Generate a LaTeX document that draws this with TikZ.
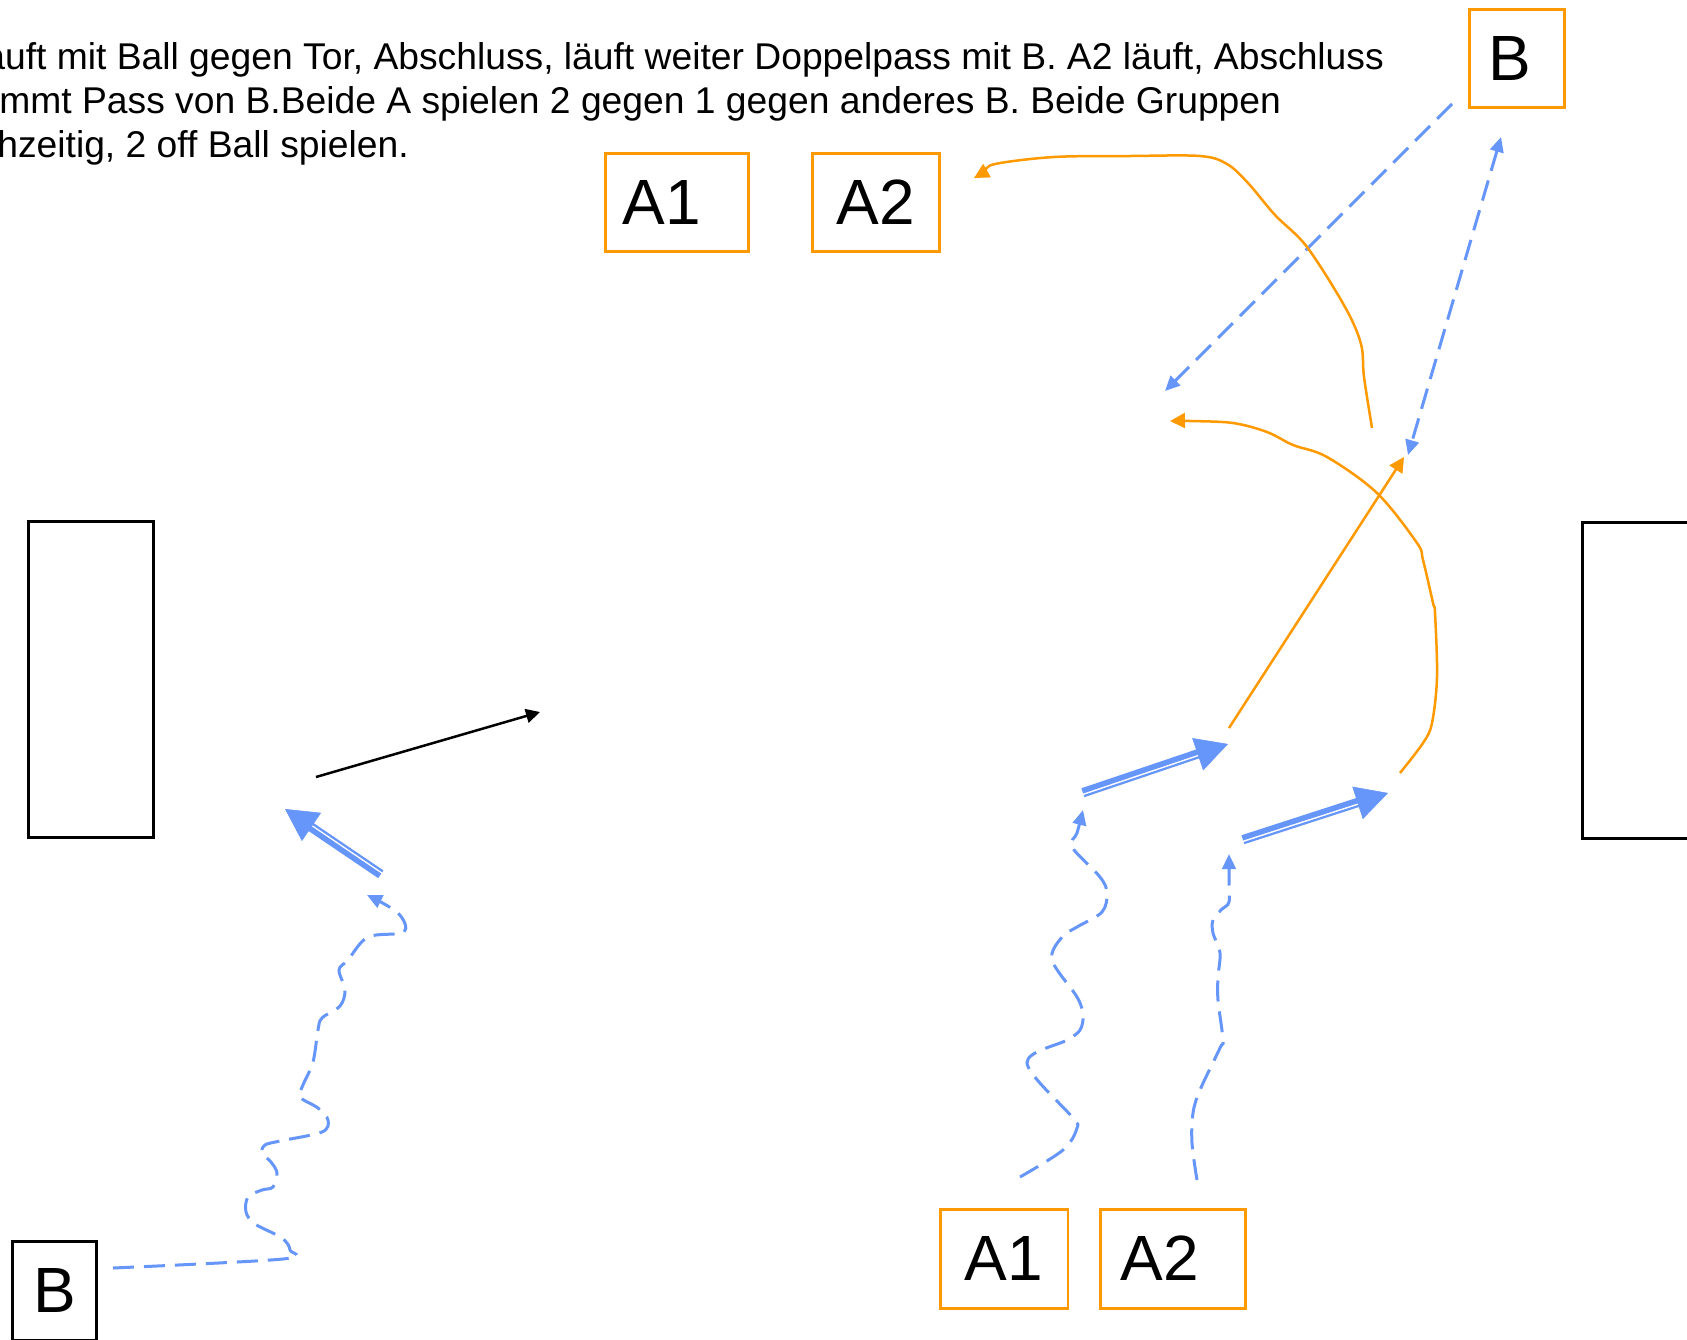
\documentclass[tikz,border=0pt]{standalone}
\usepackage{fontspec}
\setmainfont{Liberation Sans}
\usetikzlibrary{arrows.meta,calc}
\definecolor{pblue}{RGB}{102,150,250}
\definecolor{porange}{RGB}{255,153,0}
\tikzset{
  txt/.style={anchor=base west, inner sep=0pt, font=\fontsize{21.2pt}{25pt}\selectfont},
  obox/.style={draw=porange, line width=0.06cm, inner sep=0pt, minimum height=1.98cm, font=\fontsize{36.4pt}{40pt}\selectfont},
  kbox/.style={draw=black, line width=0.06cm, inner sep=0pt, minimum height=1.98cm, font=\fontsize{36.4pt}{40pt}\selectfont},
  goalbox/.style={draw=black, line width=0.06cm, inner sep=0pt},
  runpath/.style={draw=pblue, line width=0.06cm, dash pattern=on 0.42cm off 0.2cm, -{Triangle[length=0.3cm,width=0.27cm]}},
  bluepass/.style={draw=pblue, line width=0.06cm, dash pattern=on 0.42cm off 0.2cm, -{Triangle[length=0.3cm,width=0.27cm]}},
  bluepasstwo/.style={draw=pblue, line width=0.06cm, dash pattern=on 0.42cm off 0.2cm, {Triangle[length=0.3cm,width=0.27cm]}-{Triangle[length=0.3cm,width=0.27cm]}},
  orangepass/.style={draw=porange, line width=0.05cm, -{Triangle[length=0.3cm,width=0.3cm]}},
  shotarrow/.style={draw=black, line width=0.05cm, -{Triangle[length=0.28cm,width=0.28cm]}},
}
\newcommand\mydribble[2]{%
  \draw[pblue, line width=0.11cm, shorten >=0.5cm] ($(#1)!0.045cm!90:(#2)$) -- ($(#2)!0.045cm!-90:(#1)$);
  \draw[pblue, line width=0.045cm, shorten >=0.5cm] ($(#1)!0.065cm!-90:(#2)$) -- ($(#2)!0.065cm!90:(#1)$);
  \draw[pblue, line width=0.01cm, -{Triangle[length=0.64cm,width=0.68cm]}] ($(#1)!0.5!(#2)$) -- (#2);
}
\begin{document}
\begin{tikzpicture}[x=0.02cm, y=-0.02cm]
\clip (0,0) rectangle (1687,1339);
\fill[white] (0,0) rectangle (1687,1339);

% text
\node[txt] (t1) at (-16,69) {äuft mit Ball gegen Tor, Abschluss, läuft weiter Doppelpass mit B. A2 läuft, Abschluss};
\node[txt] (t2) at (-1,113) {mmt Pass von B.Beide A spielen 2 gegen 1 gegen anderes B. Beide Gruppen};
\node[txt] (t3) at (-3,157) {hzeitig, 2 off Ball spielen.};

% goals
\node[goalbox, minimum width=2.52cm, minimum height=6.34cm] (goalL) at (91,679.5) {};
\node[goalbox, minimum width=3cm, minimum height=6.34cm] (goalR) at (1657,680.5) {};

% player boxes
\node[obox, minimum width=2.88cm] (A1top) at (677,202.5) {A1\hspace*{0.6cm}};
\node[obox, minimum width=2.56cm] (A2top) at (876,202.5) {A2};
\node[obox, minimum width=2.56cm] (A1bot) at (1004,1258.5) {A1};
\node[obox, minimum width=2.9cm] (A2bot) at (1172.5,1258.5) {A2\hspace*{0.52cm}};
\node[obox, minimum width=1.9cm] (Btop) at (1516.5,58.5) {B\hspace*{0.26cm}};
\node[kbox, minimum width=1.7cm] (Bbot) at (54.5,1290.5) {B};

% coordinates
\coordinate (shotS) at (316,777);
\coordinate (shotE) at (540,712);
\coordinate (dLs) at (381,874);
\coordinate (dLe) at (285,809);
\coordinate (dR1s) at (1083,793);
\coordinate (dR1e) at (1228,744);
\coordinate (dR2s) at (1243,840);
\coordinate (dR2e) at (1388,793);
\coordinate (p1s) at (1452,104);
\coordinate (p1e) at (1165,391);
\coordinate (p2s) at (1501,137);
\coordinate (p2e) at (1408,455);
\coordinate (o1s) at (1229,728);
\coordinate (o1e) at (1404,457);

% shot
\draw[shotarrow] (shotS) -- (shotE);

% dribbles
\mydribble{dLs}{dLe}
\mydribble{dR1s}{dR1e}
\mydribble{dR2s}{dR2e}

% runs (dashed wiggly)
\draw[runpath] plot[smooth, tension=0.55] coordinates {(113,1268) (283,1259) (290,1250) (282,1238) (255,1224) (246,1212) (248,1197) (262,1190) (273,1187) (277,1173) (271,1162) (262,1153) (265,1145) (280,1141) (322,1132) (328,1120) (318,1108) (300,1097) (303,1085) (313,1062) (318,1030) (322,1018) (340,1006) (345,990) (339,970) (348,960) (368,937) (404,932) (398,913) (367,895)};
\draw[runpath] plot[smooth, tension=0.55] coordinates {(1020,1177) (1063,1150) (1077,1128) (1072,1117) (1027,1063) (1067,1040) (1080,1030) (1083,1015) (1077,997) (1052,960) (1062,937) (1077,927) (1102,912) (1107,893) (1100,877) (1072,847) (1077,833) (1083,810)};
\draw[runpath] plot[smooth, tension=0.55] coordinates {(1197,1180) (1192,1143) (1193,1113) (1200,1090) (1220,1048) (1223,1040) (1218,1000) (1218,977) (1220,953) (1213,933) (1213,920) (1222,909) (1229,902) (1229,880) (1229,854)};

% blue passes
\draw[bluepass] (p1s) -- (p1e);
\draw[bluepasstwo] (p2s) -- (p2e);

% orange passes
\draw[orangepass] (o1s) -- (o1e);
\draw[orangepass] plot[smooth, tension=0.55] coordinates {(1372,428) (1364,377) (1361,344) (1345,307) (1307,247) (1275,215) (1248,183) (1227,164) (1200,156) (1130,156) (1054,157) (995,164) (984,172) (974,178)};
\draw[orangepass] plot[smooth, tension=0.55] coordinates {(1400,773) (1423,743) (1432,723) (1437,677) (1435,613) (1433,603) (1423,560) (1417,543) (1377,493) (1327,457) (1293,445) (1267,432) (1233,423) (1190,421) (1170,421)};
\end{tikzpicture}
\end{document}
